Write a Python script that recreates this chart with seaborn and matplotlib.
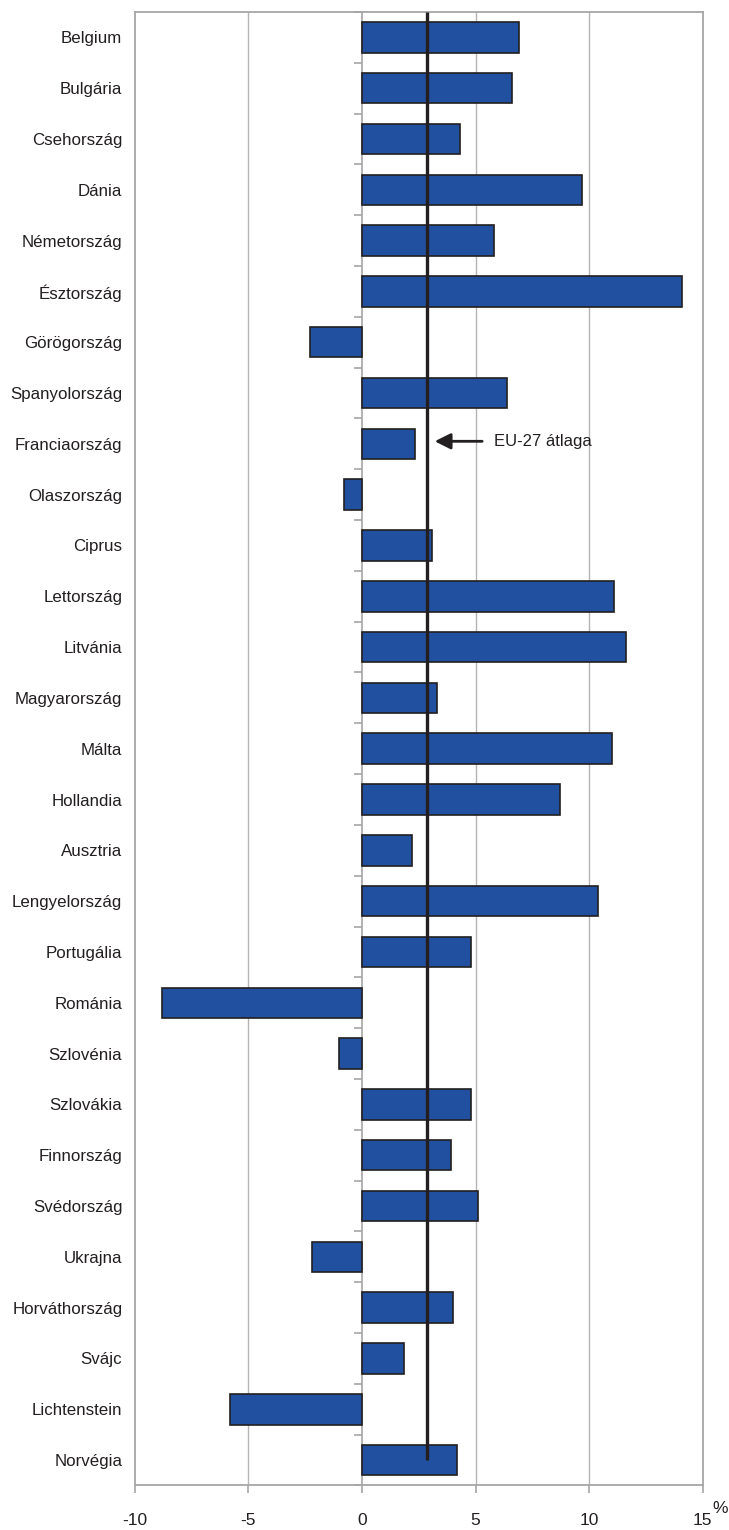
import matplotlib
matplotlib.use("Agg")
import matplotlib.pyplot as plt
import seaborn as sns
import pandas as pd

# --- adatok ---
orszagok = ["Belgium", "Bulgária", "Csehország", "Dánia", "Németország", "Észtország",
            "Görögország", "Spanyolország", "Franciaország", "Olaszország", "Ciprus",
            "Lettország", "Litvánia", "Magyarország", "Málta", "Hollandia", "Ausztria",
            "Lengyelország", "Portugália", "Románia", "Szlovénia", "Szlovákia",
            "Finnország", "Svédország", "Ukrajna", "Horváthország", "Svájc",
            "Lichtenstein", "Norvégia"]
valtozas = [6.9, 6.6, 4.3, 9.7, 5.8, 14.1,
            -2.3, 6.4, 2.35, -0.8, 3.1,
            11.1, 11.6, 3.3, 11.0, 8.7, 2.2,
            10.4, 4.8, -8.8, -1.0, 4.8,
            3.9, 5.1, -2.2, 4.0, 1.85,
            -5.8, 4.2]
eu27_atlag = 2.85
x_tickek = [-10, -5, 0, 5, 10, 15]

df = pd.DataFrame({"orszag": orszagok, "valtozas": valtozas})

sns.set_style("white")
plt.rcParams["font.family"] = ["Liberation Sans", "DejaVu Sans"]

szurke = "#a6a6a6"
sotet = "#231f20"
kek = "#2150a0"

fig = plt.figure(figsize=(7.29, 15.30), dpi=100)
ax = fig.add_axes([0.185, 0.0291, 0.779, 0.9631])

sns.barplot(data=df, x="valtozas", y="orszag", orient="h", color=kek,
            saturation=1, edgecolor=sotet, linewidth=1.2, width=0.6, ax=ax)

ax.set_xlim(x_tickek[0], x_tickek[-1])
ax.set_ylim(len(orszagok) - 0.5, -0.5)
ax.set_xticks(x_tickek)
ax.set_xticklabels([str(t) for t in x_tickek])
ax.set_xlabel("")
ax.set_ylabel("")

# rácsvonalak
for t in x_tickek[1:-1]:
    if t != 0:
        ax.axvline(t, color="#b4b4b4", lw=1.0, zorder=0)

for s in ax.spines.values():
    s.set_color(szurke)
    s.set_linewidth(1.3)

ax.tick_params(axis="y", length=0, pad=9, labelsize=12.2, labelcolor=sotet)
ax.tick_params(axis="x", direction="out", length=6, width=1.2, color=szurke,
               pad=14, labelsize=12.5, labelcolor=sotet, bottom=True)

# függőleges tengely a nullánál, a kategóriák közötti jelölésekkel
tengely = ax.secondary_yaxis(10 / 25)
hatarok = [i + 0.5 for i in range(-1, len(orszagok))]
tengely.set_yticks(hatarok)
tengely.set_yticklabels([])
tengely.tick_params(axis="y", direction="out", length=6, width=1.2, color=szurke)
tengely.spines["left"].set_color(szurke)
tengely.spines["left"].set_linewidth(1.2)

# EU-27 átlag
ax.vlines(eu27_atlag, -0.5, len(orszagok) - 1, color=sotet, lw=2.4, zorder=5)
ax.annotate("EU-27 átlaga", xy=(eu27_atlag + 0.35, 7.95), xytext=(5.8, 7.95),
            fontsize=12, color=sotet, va="center", ha="left",
            arrowprops=dict(arrowstyle="-|>", color=sotet, lw=2,
                            mutation_scale=24, shrinkA=6, shrinkB=0))

ax.text(1.017, -0.0153, "%", transform=ax.transAxes, fontsize=12.5, color=sotet,
        ha="left", va="center")

fig.savefig("out.png", dpi=100)
